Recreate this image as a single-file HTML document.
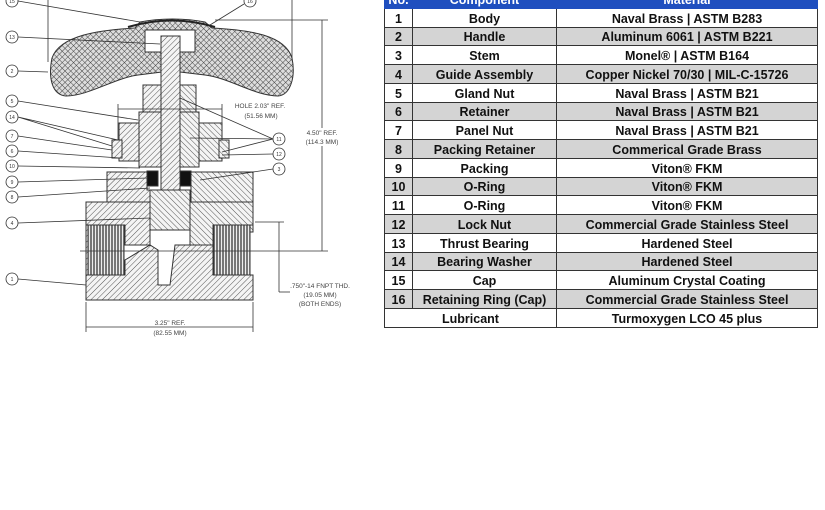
<!DOCTYPE html>
<html><head><meta charset="utf-8"><style>
body{margin:0;width:825px;height:510px;background:#fff;overflow:hidden;position:relative;font-family:"Liberation Sans",sans-serif}
svg{position:absolute;left:0;top:0}
table{position:absolute;left:384px;top:-11px;border-collapse:collapse;font-weight:bold;font-size:12.5px;color:#111}
td{border:1px solid #333;height:16px;padding:1.75px 0 0 0;text-align:center;line-height:16px;vertical-align:middle}
tr.g td{background:#d4d4d4}
tr.h td{background:#1f4fbf;color:#fff;border-color:#1f4fbf}
</style></head><body>
<svg width="380" height="345" viewBox="0 0 380 345" font-family="Liberation Sans, sans-serif">
<defs>
<pattern id="h" width="4" height="4" patternUnits="userSpaceOnUse" patternTransform="rotate(45)"><rect width="4" height="4" fill="#f4f4f4"/><line x1="0" y1="0" x2="0" y2="4" stroke="#555" stroke-width="1"/></pattern>
<pattern id="h2" width="4" height="4" patternUnits="userSpaceOnUse" patternTransform="rotate(-45)"><rect width="4" height="4" fill="#f4f4f4"/><line x1="0" y1="0" x2="0" y2="4" stroke="#555" stroke-width="1"/></pattern>
<pattern id="x" width="4" height="4" patternUnits="userSpaceOnUse" patternTransform="rotate(45)"><rect width="4" height="4" fill="#ddd"/><line x1="0" y1="0" x2="0" y2="4" stroke="#444" stroke-width="1"/><line x1="0" y1="0" x2="4" y2="0" stroke="#444" stroke-width="1"/></pattern>
<pattern id="t" width="3" height="4" patternUnits="userSpaceOnUse"><rect width="3" height="4" fill="#eee"/><line x1="1" y1="0" x2="1" y2="4" stroke="#444" stroke-width="1.4"/></pattern>
</defs>
<g stroke="#333" stroke-width="1">
<path d="M52,58 C60,35 100,30 135,28 L140,22 C160,18 185,18 205,22 L212,28 C250,30 285,35 292,58 C296,78 290,95 278,96 C255,96 230,78 205,75 L180,72 L162,72 L138,75 C115,78 88,96 66,96 C52,95 48,78 52,58Z" fill="url(#x)"/>
<rect x="145" y="30" width="50" height="22" fill="#fff"/>
<path d="M128,27 Q172,14 215,27" fill="none" stroke="#222" stroke-width="2"/>
<rect x="161" y="36" width="19" height="178" fill="url(#h)"/>
<rect x="143" y="85" width="18" height="28" fill="url(#h)"/><rect x="180" y="85" width="16" height="28" fill="url(#h2)"/>
<rect x="139" y="112" width="22" height="55" fill="url(#h)"/><rect x="180" y="112" width="19" height="55" fill="url(#h2)"/>
<rect x="119" y="123" width="20" height="38" fill="url(#h)"/><rect x="199" y="123" width="23" height="38" fill="url(#h2)"/>
<rect x="112" y="140" width="10" height="18" fill="url(#h)"/><rect x="219" y="140" width="10" height="18" fill="url(#h2)"/>
<path d="M107,172 L147,172 L147,190 L150,190 L150,232 L107,232Z" fill="url(#h)"/>
<path d="M191,172 L253,172 L253,232 L191,232 L191,190Z" fill="url(#h2)"/>
<rect x="147" y="171" width="11" height="15" fill="#111"/><rect x="180" y="171" width="11" height="15" fill="#111"/>
<path d="M86,202 L107,202 L107,300 L86,300Z" fill="url(#h)"/>
<path d="M86,202 L150,202 L150,245 L125,245 L125,225 L86,225Z" fill="url(#h)"/>
<path d="M190,202 L253,202 L253,225 L213,225 L213,245 L190,245Z" fill="url(#h2)"/>
<path d="M86,275 L125,275 L125,260 L150,245 L158,250 L158,285 L170,285 L175,245 L213,245 L213,275 L253,275 L253,300 L86,300Z" fill="url(#h)"/>
<rect x="150" y="190" width="40" height="40" fill="url(#h2)"/>
<rect x="88" y="225" width="36" height="50" fill="url(#t)"/>
<rect x="214" y="225" width="36" height="50" fill="url(#t)"/>
</g>
<g stroke="#333" stroke-width="0.8" fill="none">
<line x1="48" y1="0" x2="48" y2="62"/><line x1="292" y1="0" x2="292" y2="58"/>
<line x1="322" y1="20" x2="322" y2="128"/><line x1="322" y1="146" x2="322" y2="251"/>
<line x1="215" y1="20" x2="328" y2="20"/>
<line x1="80" y1="251" x2="328" y2="251"/>
<line x1="118" y1="109" x2="222" y2="109"/><line x1="118" y1="104" x2="118" y2="140"/><line x1="222" y1="104" x2="222" y2="140"/>
<line x1="86" y1="302" x2="86" y2="332"/><line x1="253" y1="302" x2="253" y2="332"/><line x1="86" y1="327" x2="253" y2="327"/>
<line x1="255" y1="222" x2="284" y2="222"/><line x1="279" y1="222" x2="279" y2="292"/><line x1="279" y1="292" x2="290" y2="292"/>
<path d="M18,1 L140,22 M18,37 L160,44 M18,71 L48,72 M18,101 L138,120 M18,117 L112,146 M18,117 L118,140 M18,136 L112,150 M18,151 L120,158 M18,166 L140,168 M18,182 L148,178 M18,197 L150,188 M18,223 L150,218 M18,279 L86,285 M244,4 L210,25 M273,139 L180,98 M273,139 L190,138 M273,139 L222,152 M273,154 L222,155 M273,169 L200,180"/>
</g>
<g fill="#fff" stroke="#333" stroke-width="0.8">
<circle cx="12" cy="1" r="6"/><circle cx="12" cy="37" r="6"/><circle cx="12" cy="71" r="6"/><circle cx="12" cy="101" r="6"/><circle cx="12" cy="117" r="6"/><circle cx="12" cy="136" r="6"/><circle cx="12" cy="151" r="6"/><circle cx="12" cy="166" r="6"/><circle cx="12" cy="182" r="6"/><circle cx="12" cy="197" r="6"/><circle cx="12" cy="223" r="6"/><circle cx="12" cy="279" r="6"/>
<circle cx="250" cy="1" r="6"/><circle cx="279" cy="139" r="6"/><circle cx="279" cy="154" r="6"/><circle cx="279" cy="169" r="6"/>
</g>
<g font-size="5" text-anchor="middle" fill="#333">
<text x="12" y="3">15</text><text x="12" y="39">13</text><text x="12" y="73">2</text><text x="12" y="103">5</text><text x="12" y="119">14</text><text x="12" y="138">7</text><text x="12" y="153">6</text><text x="12" y="168">10</text><text x="12" y="184">9</text><text x="12" y="199">8</text><text x="12" y="225">4</text><text x="12" y="281">1</text>
<text x="250" y="3">16</text><text x="279" y="141">11</text><text x="279" y="156">12</text><text x="279" y="171">3</text>
</g>
<g font-size="6.5" fill="#444" text-anchor="middle">
<text x="260" y="108">HOLE 2.03" REF.</text><text x="261" y="118">(51.56 MM)</text>
<text x="322" y="135">4.50" REF.</text><text x="322" y="144">(114.3 MM)</text>
<text x="320" y="288">.750"-14 FNPT THD.</text><text x="320" y="297">(19.05 MM)</text><text x="320" y="306">(BOTH ENDS)</text>
<text x="170" y="325">3.25" REF.</text><text x="170" y="335">(82.55 MM)</text>
</g>
</svg>
<table>
<colgroup><col style="width:28px"><col style="width:144px"><col style="width:261px"></colgroup>
<tr class="h"><td>No.</td><td>Component</td><td>Material</td></tr>
<tr><td>1</td><td>Body</td><td>Naval Brass | ASTM B283</td></tr>
<tr class="g"><td>2</td><td>Handle</td><td>Aluminum 6061 | ASTM B221</td></tr>
<tr><td>3</td><td>Stem</td><td>Monel® | ASTM B164</td></tr>
<tr class="g"><td>4</td><td>Guide Assembly</td><td>Copper Nickel 70/30 | MIL-C-15726</td></tr>
<tr><td>5</td><td>Gland Nut</td><td>Naval Brass | ASTM B21</td></tr>
<tr class="g"><td>6</td><td>Retainer</td><td>Naval Brass | ASTM B21</td></tr>
<tr><td>7</td><td>Panel Nut</td><td>Naval Brass | ASTM B21</td></tr>
<tr class="g"><td>8</td><td>Packing Retainer</td><td>Commerical Grade Brass</td></tr>
<tr><td>9</td><td>Packing</td><td>Viton® FKM</td></tr>
<tr class="g"><td>10</td><td>O-Ring</td><td>Viton® FKM</td></tr>
<tr><td>11</td><td>O-Ring</td><td>Viton® FKM</td></tr>
<tr class="g"><td>12</td><td>Lock Nut</td><td>Commercial Grade Stainless Steel</td></tr>
<tr><td>13</td><td>Thrust Bearing</td><td>Hardened Steel</td></tr>
<tr class="g"><td>14</td><td>Bearing Washer</td><td>Hardened Steel</td></tr>
<tr><td>15</td><td>Cap</td><td>Aluminum Crystal Coating</td></tr>
<tr class="g"><td>16</td><td>Retaining Ring (Cap)</td><td>Commercial Grade Stainless Steel</td></tr>
<tr><td colspan="2">Lubricant</td><td>Turmoxygen LCO 45 plus</td></tr>
</table>
</body></html>
